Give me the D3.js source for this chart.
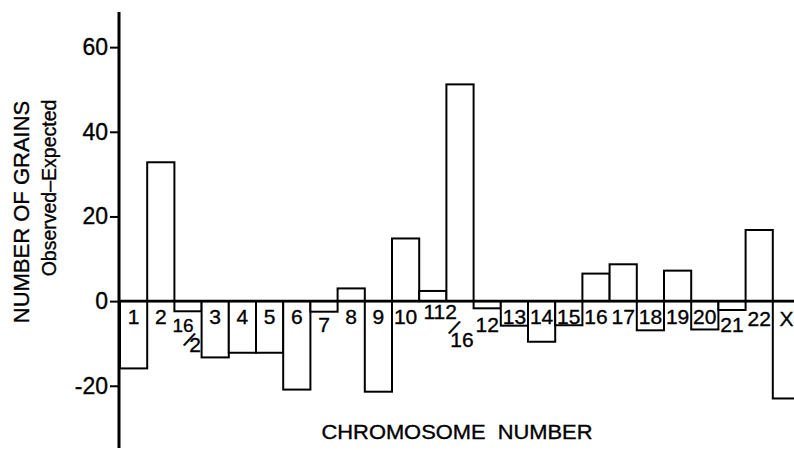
<!DOCTYPE html>
<html>
<head>
<meta charset="utf-8">
<script src="https://cdn.jsdelivr.net/npm/d3@7"></script>
<style>
  html, body { margin: 0; padding: 0; background: #fff; }
  svg { display: block; font-family: "Liberation Sans", Arial, Helvetica, sans-serif; }
  svg text { stroke: #000; stroke-width: 0.35px; }
</style>
</head>
<body>
<svg id="chart" width="794" height="450"></svg>
<script>
// ---- data ----
const categories = ["1", "2", "16/2", "3", "4", "5", "6", "7", "8", "9", "10", "11", "2/16",
  "12", "13", "14", "15", "16", "17", "18", "19", "20", "21", "22", "X"];
const values = [-15.9, 32.8, -2.4, -13.3, -12.2, -12.2, -20.9, -2.5, 3.0, -21.4, 14.8, 2.4, 51.2,
  -1.7, -5.8, -9.6, -5.7, 6.5, 8.7, -6.9, 7.2, -6.7, -2.1, 16.8, -23.0];
const yTicks = [-20, 0, 20, 40, 60];
const yTitle = "NUMBER OF GRAINS";
const ySubtitle = "Observed\u2013Expected";
const xTitle = "CHROMOSOME  NUMBER";

// ---- layout ----
const svg = d3.select("#chart");
const x = d3.scaleBand().domain(categories).range([120, 800]).paddingInner(0).paddingOuter(0);
const y = d3.scaleLinear().domain([-34.7, 68.3]).range([448, 12]);

// bars
svg.append("g").selectAll("rect")
  .data(categories.map((c, i) => ({ c, v: values[i] })))
  .join("rect")
  .attr("x", d => x(d.c))
  .attr("width", x.bandwidth())
  .attr("y", d => y(Math.max(0, d.v)))
  .attr("height", d => Math.abs(y(d.v) - y(0)))
  .attr("fill", "#fff")
  .attr("stroke", "#000")
  .attr("stroke-width", 2);

// zero line
svg.append("line")
  .attr("x1", x.range()[0]).attr("x2", 794)
  .attr("y1", y(0)).attr("y2", y(0))
  .attr("stroke", "#000").attr("stroke-width", 2.8);

// y axis
const yAxis = d3.axisLeft(y).tickValues(yTicks).tickSize(9).tickPadding(2).tickFormat(d3.format("d"));
const ag = svg.append("g").attr("transform", "translate(119,0)").call(yAxis);
ag.select(".domain").remove();
ag.selectAll(".tick line").attr("stroke", "#000").attr("stroke-width", 2);
ag.selectAll(".tick text")
  .attr("fill", "#000")
  .style("font-size", "23px")
  .style("font-family", "'Liberation Sans', Arial, sans-serif")
  .text(d => d < 0 ? "-" + Math.abs(d) : d);
svg.append("line")
  .attr("x1", 119).attr("x2", 119)
  .attr("y1", y.range()[1]).attr("y2", y.range()[0])
  .attr("stroke", "#000").attr("stroke-width", 3);

// category labels (special stacked/offset ones handled separately)
const cx = c => x(c) + x.bandwidth() / 2;
const lowered = { "7": [0, 332], "12": [0, 332], "21": [0, 332], "11": [1.5, 319], "22": [0, 326], "X": [0, 326] };
const lg = svg.append("g").style("font-size", "21px").attr("fill", "#000").attr("text-anchor", "middle");
categories.forEach(c => {
  if (c.includes("/")) return;
  const off = lowered[c] || [0, 324];
  lg.append("text").attr("x", cx(c) + off[0]).attr("y", off[1]).text(c);
});

// fraction-style labels: "16/2" and "2/16"
function fraction(c, top, bottom, tx, ty, bx, by, sx, sy, fsTop, fsBot) {
  const g = svg.append("g").attr("fill", "#000").attr("text-anchor", "middle");
  g.append("text").attr("x", cx(c) + tx).attr("y", ty).style("font-size", fsTop + "px").text(top);
  g.append("text").attr("x", cx(c) + sx).attr("y", sy).style("font-size", "21px")
    .attr("transform", `rotate(28,${cx(c) + sx},${sy - 7})`).text("/");
  g.append("text").attr("x", cx(c) + bx).attr("y", by).style("font-size", fsBot + "px").text(bottom);
}
{
  const [a, b] = categories[2].split("/");
  fraction(categories[2], a, b, -5, 332, 7, 352, 1, 347, 19, 21);
}
{
  const [a, b] = categories[12].split("/");
  fraction(categories[12], a, b, -9, 319, 2, 347, -6, 335, 21, 21);
}

// titles
svg.append("text")
  .attr("transform", "translate(29,212) rotate(-90)")
  .attr("text-anchor", "middle")
  .style("font-size", "22px").attr("fill", "#000")
  .text(yTitle);
svg.append("text")
  .attr("transform", "translate(56,188) rotate(-90)")
  .attr("text-anchor", "middle")
  .style("font-size", "19.5px").attr("fill", "#000")
  .text(ySubtitle);
svg.append("text")
  .attr("x", 457).attr("y", 439)
  .attr("text-anchor", "middle")
  .style("font-size", "20px").style("white-space", "pre").attr("fill", "#000")
  .attr("textLength", 271).attr("lengthAdjust", "spacingAndGlyphs")
  .text(xTitle);
</script>
</body>
</html>
